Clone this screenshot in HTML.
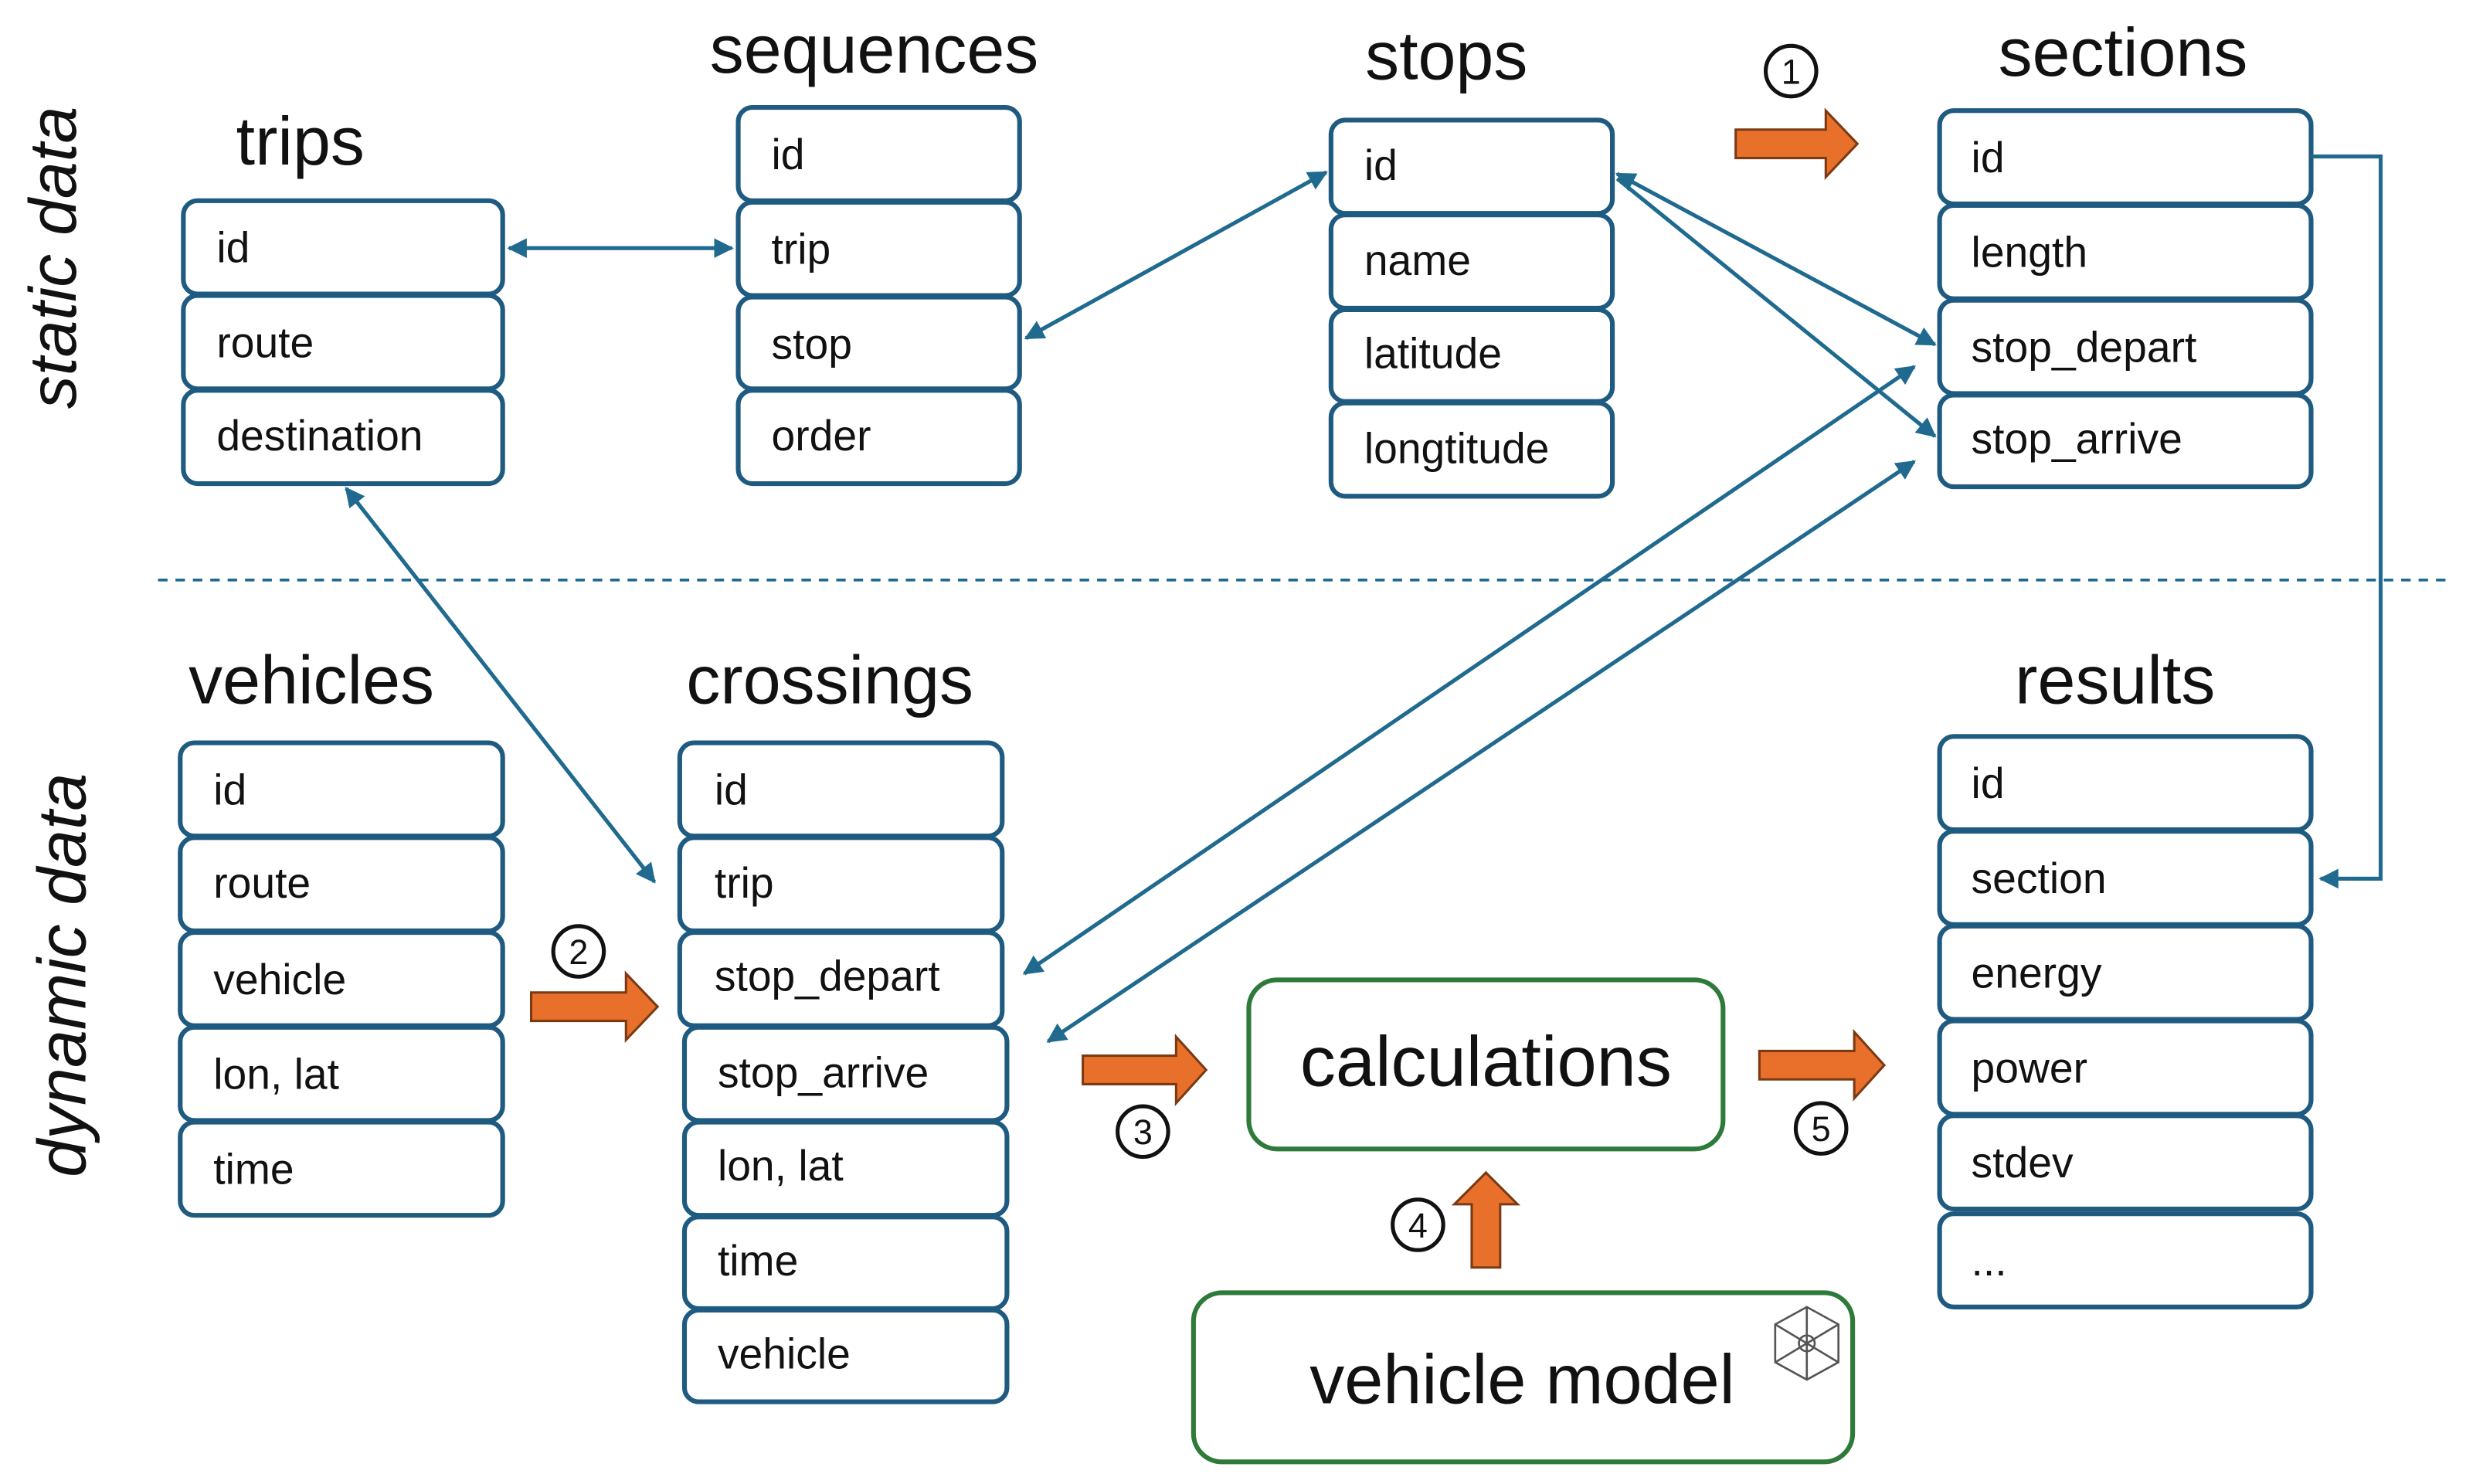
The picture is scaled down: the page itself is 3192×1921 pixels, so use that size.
<!DOCTYPE html>
<html><head><meta charset="utf-8"><style>
html,body{margin:0;padding:0;background:#fff;}
svg{display:block;}
text{font-family:"Liberation Sans",sans-serif;fill:#111;}
.r{fill:#fff;stroke:#1f5b80;stroke-width:3;}
.t{font-size:27px;}
.h{font-size:43px;text-anchor:middle;}
.c{fill:none;stroke:#1f6a8e;stroke-width:2.5;}
.g{fill:#fff;stroke:#2e7a3a;stroke-width:3;}
.o{fill:#e8702a;stroke:#7a3a14;stroke-width:1.5;}
.n{fill:#fff;stroke:#111;stroke-width:2.5;}
.nt{font-size:22px;text-anchor:middle;}
</style></head><body>
<svg width="3192" height="1921" viewBox="0 0 1560 939" preserveAspectRatio="none" xmlns="http://www.w3.org/2000/svg">
<defs>
<marker id="a" viewBox="0 0 10 10" refX="9" refY="5" markerWidth="5" markerHeight="5" orient="auto-start-reverse"><path d="M0,0 L10,5 L0,10 z" fill="#1f6a8e"/></marker>
</defs>
<text x="48" y="163" class="h" style="font-style:italic;font-size:42px" transform="rotate(-90 48 163)">static data</text>
<text x="54" y="617" class="h" style="font-style:italic;font-size:43px" transform="rotate(-90 54 617)">dynamic data</text>
<line x1="100" y1="367" x2="1548" y2="367" stroke="#1f6a8e" stroke-width="1.8" stroke-dasharray="6,5"/>

<!-- trips -->
<text x="190" y="104" class="h">trips</text>
<rect class="r" x="116" y="127" width="202" height="59" rx="9"/><text class="t" x="137" y="166">id</text>
<rect class="r" x="116" y="187" width="202" height="59" rx="9"/><text class="t" x="137" y="226">route</text>
<rect class="r" x="116" y="247" width="202" height="59" rx="9"/><text class="t" x="137" y="285">destination</text>

<!-- sequences -->
<text x="553" y="46" class="h">sequences</text>
<rect class="r" x="467" y="68" width="178" height="59" rx="9"/><text class="t" x="488" y="107">id</text>
<rect class="r" x="467" y="128" width="178" height="59" rx="9"/><text class="t" x="488" y="167">trip</text>
<rect class="r" x="467" y="188" width="178" height="58" rx="9"/><text class="t" x="488" y="227">stop</text>
<rect class="r" x="467" y="247" width="178" height="59" rx="9"/><text class="t" x="488" y="285">order</text>

<!-- stops -->
<text x="915" y="50" class="h">stops</text>
<rect class="r" x="842" y="76" width="178" height="59" rx="9"/><text class="t" x="863" y="114">id</text>
<rect class="r" x="842" y="136" width="178" height="59" rx="9"/><text class="t" x="863" y="174">name</text>
<rect class="r" x="842" y="196" width="178" height="58" rx="9"/><text class="t" x="863" y="233">latitude</text>
<rect class="r" x="842" y="255" width="178" height="59" rx="9"/><text class="t" x="863" y="293">longtitude</text>

<!-- sections -->
<text x="1343" y="48" class="h">sections</text>
<rect class="r" x="1227" y="70" width="235" height="59" rx="9"/><text class="t" x="1247" y="109">id</text>
<rect class="r" x="1227" y="130" width="235" height="59" rx="9"/><text class="t" x="1247" y="169">length</text>
<rect class="r" x="1227" y="190" width="235" height="59" rx="9"/><text class="t" x="1247" y="229">stop_depart</text>
<rect class="r" x="1227" y="250" width="235" height="58" rx="9"/><text class="t" x="1247" y="287">stop_arrive</text>

<!-- vehicles -->
<text x="197" y="445" class="h">vehicles</text>
<rect class="r" x="114" y="470" width="204" height="59" rx="9"/><text class="t" x="135" y="509">id</text>
<rect class="r" x="114" y="530" width="204" height="59" rx="9"/><text class="t" x="135" y="568">route</text>
<rect class="r" x="114" y="590" width="204" height="59" rx="9"/><text class="t" x="135" y="629">vehicle</text>
<rect class="r" x="114" y="650" width="204" height="59" rx="9"/><text class="t" x="135" y="689">lon, lat</text>
<rect class="r" x="114" y="710" width="204" height="59" rx="9"/><text class="t" x="135" y="749">time</text>

<!-- crossings -->
<text x="525" y="445" class="h">crossings</text>
<rect class="r" x="430" y="470" width="204" height="59" rx="9"/><text class="t" x="452" y="509">id</text>
<rect class="r" x="430" y="530" width="204" height="59" rx="9"/><text class="t" x="452" y="568">trip</text>
<rect class="r" x="430" y="590" width="204" height="59" rx="9"/><text class="t" x="452" y="627">stop_depart</text>
<rect class="r" x="433" y="650" width="204" height="59" rx="9"/><text class="t" x="454" y="688">stop_arrive</text>
<rect class="r" x="433" y="710" width="204" height="59" rx="9"/><text class="t" x="454" y="747">lon, lat</text>
<rect class="r" x="433" y="770" width="204" height="58" rx="9"/><text class="t" x="454" y="807">time</text>
<rect class="r" x="433" y="829" width="204" height="58" rx="9"/><text class="t" x="454" y="866">vehicle</text>

<!-- results -->
<text x="1338" y="445" class="h">results</text>
<rect class="r" x="1227" y="466" width="235" height="59" rx="9"/><text class="t" x="1247" y="505">id</text>
<rect class="r" x="1227" y="526" width="235" height="59" rx="9"/><text class="t" x="1247" y="565">section</text>
<rect class="r" x="1227" y="586" width="235" height="59" rx="9"/><text class="t" x="1247" y="625">energy</text>
<rect class="r" x="1227" y="646" width="235" height="59" rx="9"/><text class="t" x="1247" y="685">power</text>
<rect class="r" x="1227" y="706" width="235" height="59" rx="9"/><text class="t" x="1247" y="745">stdev</text>
<rect class="r" x="1227" y="768" width="235" height="59" rx="9"/><text class="t" x="1247" y="807">...</text>

<!-- calculations & vehicle model -->
<rect class="g" x="790" y="620" width="300" height="107" rx="18"/>
<text x="940" y="687" style="font-size:45px" text-anchor="middle">calculations</text>
<rect class="g" x="755" y="818" width="417" height="107" rx="18"/>
<text x="963" y="888" style="font-size:44px" text-anchor="middle">vehicle model</text>
<g fill="none" stroke="#555" stroke-width="1.3">
<path d="M1143,827 L1163,838 L1163,862 L1143,873 L1123,862 L1123,838 Z"/>
<path d="M1143,827 L1143,873 M1123,838 L1163,862 M1163,838 L1123,862"/>
<circle cx="1143" cy="850" r="5"/>
</g>

<!-- connectors -->
<line class="c" x1="322" y1="157" x2="463" y2="157" marker-start="url(#a)" marker-end="url(#a)"/>
<line class="c" x1="649" y1="214" x2="839" y2="109" marker-start="url(#a)" marker-end="url(#a)"/>
<line class="c" x1="1023" y1="110" x2="1224" y2="218" marker-start="url(#a)" marker-end="url(#a)"/>
<line class="c" x1="1023" y1="113" x2="1224" y2="276" marker-end="url(#a)"/>
<line class="c" x1="648" y1="616" x2="1211" y2="232" marker-start="url(#a)" marker-end="url(#a)"/>
<line class="c" x1="663" y1="659" x2="1211" y2="292" marker-start="url(#a)" marker-end="url(#a)"/>
<line class="c" x1="219" y1="309" x2="414" y2="558" marker-start="url(#a)" marker-end="url(#a)"/>
<polyline class="c" points="1462,99 1506,99 1506,556 1468,556" marker-end="url(#a)"/>

<!-- orange arrows -->
<path class="o" d="M1098,82 L1155,82 L1155,70 L1175,91 L1155,112 L1155,100 L1098,100 Z"/>
<path class="o" d="M336,628 L396,628 L396,616 L416,637 L396,658 L396,646 L336,646 Z"/>
<path class="o" d="M685,668 L744,668 L744,656 L763,677 L744,698 L744,686 L685,686 Z"/>
<path class="o" d="M1113,665 L1173,665 L1173,653 L1192,674 L1173,695 L1173,683 L1113,683 Z"/>
<path class="o" d="M931,802 L931,762 L920,762 L940,742 L960,762 L949,762 L949,802 Z"/>

<!-- numbers -->
<circle class="n" cx="1133" cy="45" r="16"/><text class="nt" x="1133" y="53">1</text>
<circle class="n" cx="366" cy="602" r="16"/><text class="nt" x="366" y="610">2</text>
<circle class="n" cx="723" cy="716" r="16"/><text class="nt" x="723" y="724">3</text>
<circle class="n" cx="897" cy="775" r="16"/><text class="nt" x="897" y="783">4</text>
<circle class="n" cx="1152" cy="714" r="16"/><text class="nt" x="1152" y="722">5</text>
</svg>
</body></html>
